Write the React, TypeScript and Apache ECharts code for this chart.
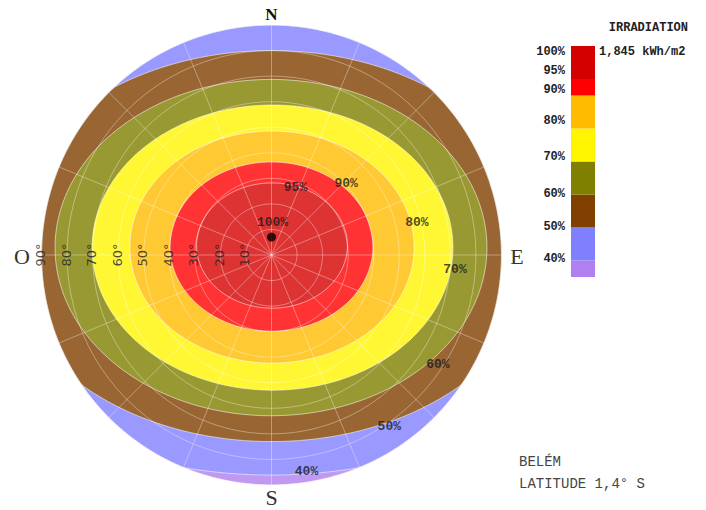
import React, { useEffect, useRef } from 'react';
import * as echarts from 'echarts';

// ---------- data ----------
// zenith-angle rings (degrees) of the sun-path style diagram
const zenithTicks = [10, 20, 30, 40, 50, 60, 70, 80, 90];
const zenithLabels = ['10°', '20°', '30°', '40°', '50°', '60°', '70°', '80°', '90°'];

// irradiation zones, outermost first (ellipses in zenith-degree units)
const zoneLevels = ['<40%', '40%', '50%', '60%', '70%', '80%', '90%', '95%'];
const zoneCx = [0, 0, 0, -0.2, 0.4, 0.2, 0, 0.2];
const zoneCy = [0, 3.5, 3.5, 2.9, 2.9, 3.1, 3.3, 3.7];
const zoneRx = [90, 135.8, 105.5, 84.5, 70.6, 55.6, 39.7, 29.5];
const zoneRy = [90, 89.6, 76.5, 65.8, 55.8, 45.4, 33.1, 24.5];
const zoneColors = ['#b080f0', '#8080ff', '#804000', '#808000', '#fff500', '#ffbb00', '#ff0000', '#d40000'];

// contour labels placed on the diagram
const contourLabels = ['100%', '95%', '90%', '80%', '70%', '60%', '50%', '40%'];
const contourX = [0.4, 9.4, 29.2, 56.9, 71.8, 65.1, 46.1, 13.7];
const contourY = [12.9, 26.6, 28.0, 12.9, -5.5, -42.7, -67.1, -84.9];

// point of maximum irradiation
const peakPoint = [0, 7.0];

// legend (bottom-up spans in percentage points)
const legendSpans = [5, 10, 10, 10, 10, 10, 5, 10];
const legendColors = ['#b080f0', '#8080ff', '#804000', '#808000', '#fff500', '#ffbb00', '#ff0000', '#d40000'];
const legendLabels = ['100%', '95%', '90%', '80%', '70%', '60%', '50%', '40%'];
const legendLabelY = [51.5, 71, 90, 121, 157, 194, 227, 258.5];

const legendTitle = 'IRRADIATION';
const legendMax = '1,845 kWh/m2';
const cityName = 'BELÉM';
const cityLatitude = 'LATITUDE 1,4° S';

// ---------- helpers ----------
function mixWhite(hex: string, a: number): string {
  const n = parseInt(hex.slice(1), 16);
  const r = (n >> 16) & 255, g = (n >> 8) & 255, b = n & 255;
  const f = (v: number) => Math.round(v * a + 255 * (1 - a));
  return `rgb(${f(r)},${f(g)},${f(b)})`;
}
const zoneFills = zoneColors.map((c) => mixWhite(c, 0.8));
const HORIZON = zenithTicks[zenithTicks.length - 1];

export default function App() {
  const ref = useRef<HTMLDivElement>(null);

  useEffect(() => {
    if (!ref.current) return;
    const chart = echarts.init(ref.current, undefined, { renderer: 'svg' });
    const cxPix = 271.5, cyPix = 255, rPix = 230;

    const mono = 'Liberation Mono, Courier New, monospace';
    const serif = 'Liberation Serif, Times New Roman, serif';

    const txt = (text: string, x: number, y: number, font: string, align: string, fill = '#222') => ({
      type: 'text',
      x,
      y,
      z: 20,
      style: {
        text,
        font,
        fill,
        align,
        textAlign: align,
        verticalAlign: 'middle',
        textVerticalAlign: 'middle',
      },
    });

    const graphics: any[] = [
      txt('N', cxPix, 14, `bold 17px ${serif}`, 'center', '#111'),
      txt('S', cxPix, 497, `22px ${serif}`, 'center', '#333'),
      txt('O', 22, 256, `22px ${serif}`, 'center', '#333'),
      txt('E', 517, 256, `22px ${serif}`, 'center', '#333'),
      txt(legendTitle, 688, 28, `bold 12px ${mono}`, 'right', '#222'),
      txt(legendMax, 599, 52, `bold 12px ${mono}`, 'left', '#222'),
      txt(cityName, 519, 461.5, `14px ${mono}`, 'left', '#444'),
      txt(cityLatitude, 519, 483.5, `14px ${mono}`, 'left', '#444'),
      ...legendLabels.map((l, i) => txt(l, 565, legendLabelY[i], `bold 12px ${mono}`, 'right', '#222')),
    ];

    const zoneData = zoneLevels.map((_, i) => [zoneCx[i], zoneCy[i], zoneRx[i], zoneRy[i], i]);

    const option: any = {
      animation: false,
      backgroundColor: '#ffffff',
      polar: { center: [cxPix, cyPix], radius: rPix },
      angleAxis: {
        type: 'value',
        min: 0,
        max: 360,
        interval: 22.5,
        startAngle: 90,
        z: 5,
        axisLine: { show: false },
        axisTick: { show: false },
        axisLabel: { show: false },
        splitLine: { show: true, lineStyle: { color: 'rgba(255,255,255,0.35)', width: 1 } },
      },
      radiusAxis: {
        type: 'value',
        min: 0,
        max: HORIZON,
        interval: 10,
        z: 5,
        axisLine: { show: false },
        axisTick: { show: false },
        axisLabel: { show: false },
        splitLine: { show: true, lineStyle: { color: 'rgba(255,255,255,0.35)', width: 1 } },
      },
      grid: [
        { left: cxPix - rPix, top: cyPix - rPix, width: rPix * 2, height: rPix * 2 },
        { left: 571, top: 46, width: 24, height: 231 },
      ],
      xAxis: [
        { type: 'value', min: -HORIZON, max: HORIZON, show: false, gridIndex: 0 },
        { type: 'category', data: ['legend'], show: false, gridIndex: 1 },
      ],
      yAxis: [
        { type: 'value', min: -HORIZON, max: HORIZON, show: false, gridIndex: 0 },
        { type: 'value', min: 0, max: 70, show: false, gridIndex: 1 },
      ],
      graphic: graphics,
      series: [
        {
          type: 'custom',
          xAxisIndex: 0,
          yAxisIndex: 0,
          z: 2,
          clip: false,
          encode: { x: 0, y: 1 },
          data: zoneData,
          renderItem: (params: any, api: any) => {
            const cx = api.value(0), cy = api.value(1), rx = api.value(2), ry = api.value(3);
            const idx = api.value(4);
            const pts: number[][] = [];
            for (let k = 0; k < 360; k++) {
              const a = (k * Math.PI) / 180;
              const dx = Math.cos(a), dy = Math.sin(a);
              const A = (dx / rx) ** 2 + (dy / ry) ** 2;
              const B = -2 * ((dx * cx) / (rx * rx) + (dy * cy) / (ry * ry));
              const C = (cx / rx) ** 2 + (cy / ry) ** 2 - 1;
              const t = (-B + Math.sqrt(B * B - 4 * A * C)) / (2 * A);
              const r = Math.min(t, HORIZON);
              pts.push(api.coord([r * dx, r * dy]));
            }
            return {
              type: 'polygon',
              shape: { points: pts },
              style: { fill: zoneFills[idx], stroke: 'rgba(255,255,255,0.55)', lineWidth: 1 },
            };
          },
        },
        {
          type: 'scatter',
          xAxisIndex: 0,
          yAxisIndex: 0,
          z: 10,
          clip: false,
          symbolSize: 0,
          data: zenithTicks.map((v) => [-v, 0]),
          label: {
            show: true,
            position: 'inside',
            rotate: 90,
            formatter: (p: any) => zenithLabels[p.dataIndex],
            fontFamily: 'DejaVu Sans, sans-serif',
            fontSize: 13,
            color: '#222',
            offset: [0, -1],
          },
        },
        {
          type: 'scatter',
          xAxisIndex: 0,
          yAxisIndex: 0,
          z: 10,
          clip: false,
          symbolSize: 0,
          data: contourLabels.map((_, i) => [contourX[i], contourY[i]]),
          label: {
            show: true,
            position: 'inside',
            formatter: (p: any) => contourLabels[p.dataIndex],
            fontFamily: mono,
            fontWeight: 'bold',
            fontSize: 13,
            color: '#1a1a1a',
          },
        },
        {
          type: 'scatter',
          xAxisIndex: 0,
          yAxisIndex: 0,
          z: 11,
          symbolSize: 9,
          itemStyle: { color: '#000' },
          data: [peakPoint],
        },
        ...legendSpans.map((v, i) => ({
          type: 'bar',
          xAxisIndex: 1,
          yAxisIndex: 1,
          stack: 'legend',
          barWidth: '100%',
          barCategoryGap: 0,
          itemStyle: { color: legendColors[i] },
          data: [v],
        })),
      ],
    };

    chart.setOption(option);
    return () => chart.dispose();
  }, []);

  return (
    <div
      ref={ref}
      style={{ position: 'fixed', left: 0, top: 0, width: 706, height: 510, background: '#fff' }}
    />
  );
}
